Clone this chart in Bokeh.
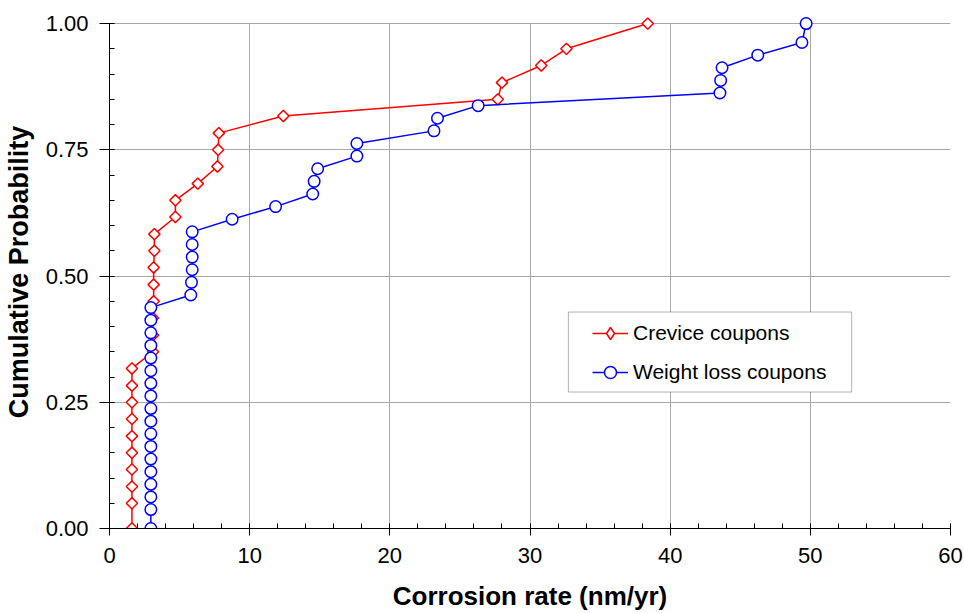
import math
from bokeh.plotting import figure
from bokeh.models import (Range1d, FixedTicker, NumeralTickFormatter, Legend,
                          LegendItem, BoxAnnotation)
from bokeh.embed import file_html
from bokeh.resources import INLINE

# ---- data ----
crevice_rate = [1.6, 1.6, 1.6, 1.6, 1.6, 1.6, 1.6, 1.6, 1.6, 1.6,
                3.1, 3.1, 3.1, 3.15, 3.15, 3.15, 3.2, 3.2,
                4.7, 4.7, 6.3, 7.7, 7.75, 7.8, 12.4,
                27.7, 28.0, 30.8, 32.6, 38.4]
crevice_prob = [0.0, 0.05, 0.083, 0.117, 0.15, 0.183, 0.217, 0.25, 0.283, 0.317,
                0.35, 0.383, 0.417, 0.45, 0.483, 0.517, 0.55, 0.583,
                0.617, 0.65, 0.683, 0.717, 0.75, 0.783, 0.817,
                0.85, 0.883, 0.917, 0.95, 1.0]

weight_rate = [2.95, 2.95, 2.95, 2.95, 2.95, 2.95, 2.95, 2.95, 2.95,
               2.95, 2.95, 2.95, 2.95, 2.95, 2.95, 2.95, 2.95, 2.95,
               5.8, 5.85, 5.9, 5.9, 5.9, 5.9,
               8.75, 11.85, 14.5, 14.6, 14.85, 17.65, 17.65,
               23.15, 23.4, 26.3, 43.55, 43.6, 43.7, 46.25, 49.4, 49.7]
weight_prob = [0.0, 0.0375, 0.0625, 0.0875, 0.1125, 0.1375, 0.1625, 0.1875, 0.2125,
               0.2375, 0.2625, 0.2875, 0.3125, 0.3375, 0.3625, 0.3875, 0.4125, 0.4375,
               0.4625, 0.4875, 0.5125, 0.5375, 0.5625, 0.5875,
               0.6125, 0.6375, 0.6625, 0.6875, 0.7125, 0.7375, 0.7625,
               0.7875, 0.8125, 0.8375, 0.8625, 0.8875, 0.9125, 0.9375, 0.9625, 1.0]

x_ticks = [0, 10, 20, 30, 40, 50, 60]
y_ticks = [0.0, 0.25, 0.5, 0.75, 1.0]
x_label = "Corrosion rate (nm/yr)"
y_label = "Cumulative Probability"
series_names = ["Crevice coupons", "Weight loss coupons"]

FONT = "Liberation Sans"
YPAD = 0.016   # headroom so the markers at 1.00 are not clipped

p = figure(width=964, height=613, output_backend="svg", toolbar_location=None,
           x_range=Range1d(0, 60), y_range=Range1d(0, 1 + YPAD),
           min_border_left=107, min_border_right=14, min_border_top=15,
           min_border_bottom=85)
p.outline_line_color = None
p.background_fill_color = "white"
p.border_fill_color = "white"

x_minor = [i * 2 for i in range(31)]
y_minor = [i * 0.05 for i in range(21)]
p.xaxis.ticker = FixedTicker(ticks=x_ticks, minor_ticks=x_minor)
p.yaxis.ticker = FixedTicker(ticks=y_ticks, minor_ticks=y_minor)
p.xgrid.ticker = FixedTicker(ticks=x_ticks)
p.ygrid.ticker = FixedTicker(ticks=y_ticks)
p.yaxis.formatter = NumeralTickFormatter(format="0.00")
p.yaxis.bounds = (0, 1)

for g in (p.xgrid, p.ygrid):
    g.grid_line_color = "#a8a8a8"
    g.grid_line_width = 1
try:
    p.xgrid.cross_bounds = (0, 1)
except Exception:
    pass

for ax in (p.xaxis, p.yaxis):
    ax.axis_line_color = "black"
    ax.axis_line_width = 1
    ax.major_tick_line_color = "black"
    ax.minor_tick_line_color = "black"
    ax.major_tick_in = 5
    ax.minor_tick_in = 5
    ax.minor_tick_out = 0
    ax.major_label_text_font = FONT
    ax.major_label_text_font_size = "22px"
    ax.major_label_text_color = "black"
    ax.axis_label_text_font = FONT
    ax.axis_label_text_font_style = "bold"
    ax.axis_label_text_color = "black"

p.xaxis.major_tick_out = 7
p.yaxis.major_tick_out = 10
p.xaxis.major_label_standoff = 12
p.yaxis.major_label_standoff = 11
p.xaxis.axis_label = x_label
p.yaxis.axis_label = y_label
p.xaxis.axis_label_text_font_size = "26px"
p.yaxis.axis_label_text_font_size = "27px"
p.xaxis.axis_label_standoff = 15
p.yaxis.axis_label_standoff = 9

# ---- series ----
r_cl = p.line(crevice_rate, crevice_prob, line_color="#ff0000", line_width=1.5)
r_cm = p.scatter(crevice_rate, crevice_prob, marker="square", angle=math.pi / 4,
                 size=8, fill_color="white", line_color="#ff0000", line_width=1.5)
r_wl = p.line(weight_rate, weight_prob, line_color="#0000ff", line_width=1.5)
r_wm = p.scatter(weight_rate, weight_prob, marker="circle", size=11.5,
                 fill_color="white", line_color="#0000ff", line_width=1.5)

# legend key marker for the crevice series (not drawn in the plot: NaN position)
r_cm_key = p.scatter(x=[float("nan")], y=[float("nan")], marker="diamond", size=12,
                     fill_color="white", line_color="#ff0000", line_width=1.5)

# ---- legend ----
box = BoxAnnotation(left=32.74, right=52.95, bottom=0.2703, top=0.4287,
                    fill_color="white", fill_alpha=1.0,
                    line_color="black", line_width=1)
p.add_layout(box)

legend = Legend(items=[LegendItem(label=series_names[0], renderers=[r_cl, r_cm_key]),
                       LegendItem(label=series_names[1], renderers=[r_wl, r_wm])],
                location=(483, 141), padding=0, spacing=9, margin=0,
                glyph_width=36, glyph_height=30, label_height=30,
                label_standoff=5, border_line_color=None,
                background_fill_alpha=0.0,
                label_text_font=FONT, label_text_font_size="21px",
                label_text_color="black")
p.add_layout(legend)

open("out.html", "w").write(file_html(p, INLINE))
